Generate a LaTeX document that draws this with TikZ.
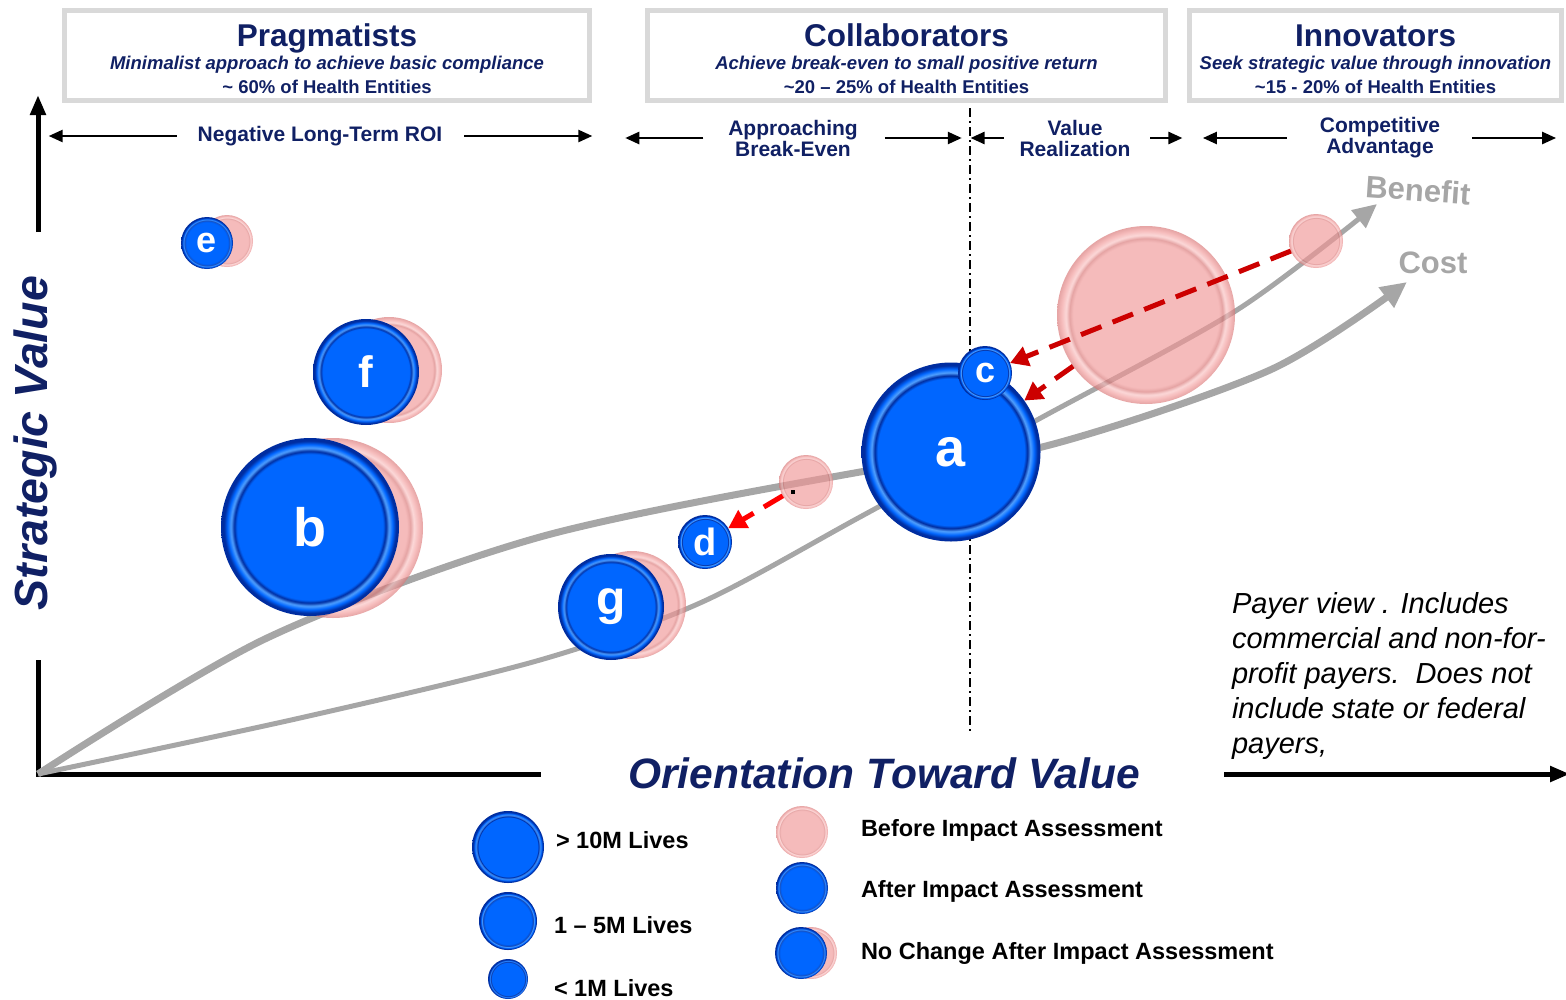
\documentclass[tikz,border=0pt]{standalone}
\usepackage{fontspec}
\setmainfont{Liberation Sans}
\usetikzlibrary{arrows.meta}
\definecolor{navy}{RGB}{16,32,100}
\definecolor{boxgray}{RGB}{217,217,217}
\definecolor{curvegray}{RGB}{166,166,166}
\definecolor{movered}{RGB}{204,0,0}
\definecolor{bblue}{RGB}{0,102,255}
\definecolor{bdark}{RGB}{0,45,160}
\definecolor{blight}{RGB}{80,160,255}
\definecolor{ppink}{RGB}{240,150,150}
\definecolor{pdark}{RGB}{215,115,115}
\definecolor{plight}{RGB}{250,195,195}
\pgfdeclareradialshading{bubblefill}{\pgfpoint{0bp}{0bp}}{color(0bp)=(bblue); color(20.5bp)=(bblue); color(21.3bp)=(bdark); color(22.2bp)=(blight); color(23.2bp)=(bblue); color(24.2bp)=(bdark); color(25bp)=(bdark); color(50bp)=(bdark)}
\pgfdeclareradialshading{pinkfill}{\pgfpoint{0bp}{0bp}}{color(0bp)=(ppink); color(20.5bp)=(ppink); color(21.5bp)=(pdark); color(22.5bp)=(plight); color(23.8bp)=(ppink); color(25bp)=(pdark); color(50bp)=(pdark)}
\begin{document}
\begin{tikzpicture}[x=1pt,y=-1pt,inner sep=0pt,outer sep=0pt,
hdrbox/.style={draw=boxgray,line width=5pt,rectangle,minimum height=90pt,align=center,text=navy,font=\fontsize{18.5}{23.5}\selectfont\bfseries},
roilabel/.style={text=navy,align=center,font=\fontsize{21}{21}\selectfont\bfseries},
roi/.style={line width=2.5pt,-{Triangle[length=14pt,width=12pt]}},
axisline/.style={line width=5pt},
axislabel/.style={text=navy,font=\fontsize{46.5}{46.5}\selectfont\bfseries\itshape},
cost/.style={curvegray,line width=7pt,-{Triangle[length=26pt,width=24pt]}},
benefit/.style={curvegray,line width=5pt,-{Triangle[length=24pt,width=22pt]}},
curvelabel/.style={text=curvegray,font=\fontsize{31}{31}\selectfont\bfseries},
pinkbub/.style={circle,shade,shading=pinkfill,opacity=0.65,minimum size=#1},
bluebub/.style={circle,shade,shading=bubblefill,text=white,minimum size=#1},
move/.style={movered,line width=5pt,dash pattern=on 22pt off 12pt,-{Triangle[length=18pt,width=20pt]}},
legendtext/.style={anchor=west,font=\fontsize{23.5}{23.5}\selectfont\bfseries}]
\useasboundingbox (0,0) rectangle (1566,999);

\draw (327,55.5) node[hdrbox,minimum width=525pt] (prag) {{\fontsize{31.5}{23.5}\selectfont\rule{0pt}{29pt}Pragmatists}\\{\itshape Minimalist approach to achieve basic compliance}\\\textasciitilde{} 60\% of Health Entities};
\draw (906.5,55.5) node[hdrbox,minimum width=518pt] (collab) {{\fontsize{31.5}{23.5}\selectfont\rule{0pt}{29pt}Collaborators}\\{\itshape Achieve break-even to small positive return}\\\textasciitilde20 – 25\% of Health Entities};
\draw (1375.5,55.5) node[hdrbox,minimum width=372pt] (innov) {{\fontsize{31.5}{23.5}\selectfont\rule{0pt}{29pt}Innovators}\\{\itshape Seek strategic value through innovation}\\\textasciitilde15 - 20\% of Health Entities};

\draw (320,136) node[roilabel] (negroi) {Negative Long-Term ROI};
\draw (793,138) node[roilabel] (breakeven) {Approaching\\Break-Even};
\draw (1075,138) node[roilabel] (realize) {Value\\Realization};
\draw (1380,138) node[roilabel] (compete) {Competitive\\Advantage};
\draw[roi] ([xshift=-21pt]negroi.west) -- ++(-128,0);
\draw[roi] ([xshift=22pt]negroi.east) -- ++(128,0);
\draw[roi] ([xshift=-25pt]breakeven.west) -- ++(-78,0);
\draw[roi] ([xshift=27pt]breakeven.east) -- ++(77,0);
\draw[roi] ([xshift=-16pt]realize.west) -- ++(-33,0);
\draw[roi] ([xshift=20pt]realize.east) -- ++(32,0);
\draw[roi] ([xshift=-33pt]compete.west) -- ++(-84,0);
\draw[roi] ([xshift=32pt]compete.east) -- ++(84,0);
\draw[line width=2pt,dash pattern=on 9pt off 4pt on 2pt off 4pt] (970,108) -- (970,732);

\coordinate (origin) at (38,774);
\draw[axisline] (38,660) |- (541,774);
\draw[axisline,-{Triangle[length=20pt,width=15pt]}] (38,232) -- (38,95);
\draw[axisline,-{Triangle[length=20pt,width=15pt]}] (1224,774) -- (1570,774);
\draw (35,443) node[axislabel,rotate=90] (yaxis) {Strategic Value};
\draw (884,773) node[axislabel,font=\fontsize{42.5}{42.5}\selectfont\bfseries\itshape] (xaxis) {Orientation Toward Value};

\draw[cost] plot[smooth] coordinates {(origin) (267,638) (540,537) (860,472) (1042,447) (1270,370) (1407,282)};
\draw[benefit] plot[smooth] coordinates {(origin) (300,718) (540,660) (700,603) (860,517) (1037,420) (1237,310) (1377,204)};
\draw (1418,190) node[curvelabel,rotate=-4] (benefitlbl) {Benefit};
\draw (1433,263) node[curvelabel] (costlbl) {Cost};

\draw (227,241) node[pinkbub=52pt] (eshade) {};
\draw (389,370) node[pinkbub=106pt] (fshade) {};
\draw (333,528) node[pinkbub=180pt] (bshade) {};
\draw (632,605) node[pinkbub=108pt] (gshade) {};
\draw (806,482) node[pinkbub=54pt] (dpre) {};
\draw (1146,315) node[pinkbub=178pt] (apre) {};
\draw (1316,241) node[pinkbub=54pt] (cpre) {};
\fill (791,490) rectangle (795,494);

\draw (207,243) node[bluebub=52pt,font=\fontsize{36}{36}\selectfont\bfseries] (e) {e};
\draw (366,372) node[bluebub=106pt,font=\fontsize{44}{44}\selectfont\bfseries] (f) {f};
\draw (310,527) node[bluebub=178pt,font=\fontsize{54}{54}\selectfont\bfseries] (b) {b};
\draw (611,607) node[bluebub=106pt,font=\fontsize{48}{48}\selectfont\bfseries] (g) {g};
\draw (705,542) node[bluebub=54pt,font=\fontsize{38}{38}\selectfont\bfseries] (d) {d};
\draw (951,452) node[bluebub=179pt,font=\fontsize{54}{54}\selectfont\bfseries] (a) {a};
\draw (985,373) node[bluebub=54pt,font=\fontsize{36}{36}\selectfont\bfseries] (c) {c};

\draw[move] (cpre) -- (c);
\draw[move] (apre) -- (a);
\draw[move,red] (dpre) -- (d);

\draw (1232,592) node[anchor=north west,align=left,font=\fontsize{29}{35}\selectfont\itshape] (payer) {Payer view . Includes\\commercial and non-for-\\profit payers.\ \ Does not\\include state or federal\\payers,};

\draw (508,847) node[bluebub=72pt] (bigkey) {};
\draw (508,921) node[bluebub=58pt] (midkey) {};
\draw (508,979) node[bluebub=40pt] (smallkey) {};
\draw (556,840) node[legendtext] (bigtxt) {> 10M Lives};
\draw (554,925) node[legendtext] (midtxt) {1 – 5M Lives};
\draw (554,988) node[legendtext] (smalltxt) {< 1M Lives};
\draw (802,832) node[pinkbub=52pt] (beforekey) {};
\draw (802,888) node[bluebub=52pt] (afterkey) {};
\draw (811,953) node[pinkbub=52pt] (samekeyp) {};
\draw (801,953) node[bluebub=52pt] (samekey) {};
\draw (861,830) node[legendtext] (beforetxt) {Before Impact Assessment};
\draw (861,891) node[legendtext] (aftertxt) {After Impact Assessment};
\draw (861,953) node[legendtext] (sametxt) {No Change After Impact Assessment};
\end{tikzpicture}
\end{document}
